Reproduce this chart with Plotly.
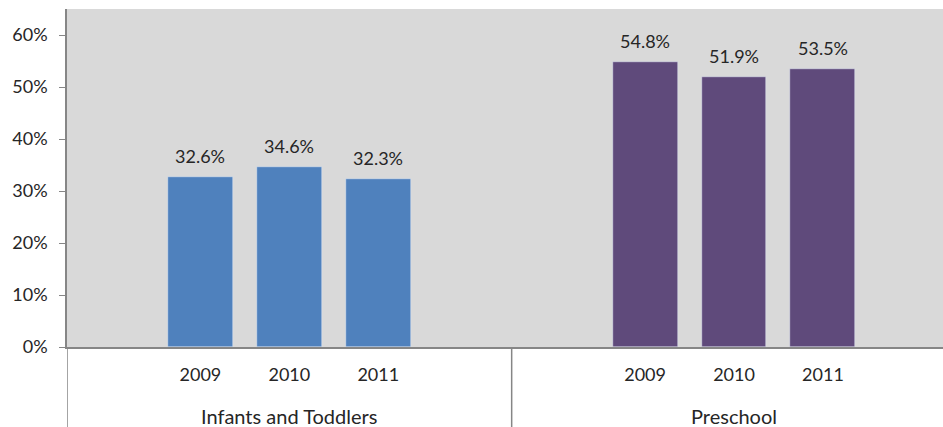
import plotly.graph_objects as go

groups = ["Infants and Toddlers", "Preschool"]
years = ["2009", "2010", "2011"]
infants = [32.6, 34.6, 32.3]
preschool = [54.8, 51.9, 53.5]
y_ticks = [0, 10, 20, 30, 40, 50, 60]

# category slots: each group has 5 slots (blank, 2009, 2010, 2011, blank)
pos_inf = [1, 2, 3]
pos_pre = [6, 7, 8]

font_fam = "Lato, 'Open Sans', sans-serif"
txt_col = "#262626"
axis_col = "#868686"
fs = 18

fig = go.Figure()
for pos, vals, col in [(pos_inf, infants, "#4f81bd"), (pos_pre, preschool, "#5f4a7b")]:
    fig.add_trace(go.Bar(x=pos, y=vals, width=0.73, marker_color=col, showlegend=False))
    for p, v in zip(pos, vals):
        fig.add_annotation(x=p, y=v, xref="x", yref="y", text=f"{v:.1f}%", showarrow=False,
                           yanchor="bottom", yshift=8,
                           font=dict(size=fs, color=txt_col, family=font_fam))

fig.update_layout(
    width=943, height=427,
    margin=dict(l=67, r=0, t=9, b=80, autoexpand=False),
    paper_bgcolor="white", plot_bgcolor="#d9d9d9",
    font=dict(family=font_fam, size=fs, color=txt_col),
    bargap=0,
    xaxis=dict(
        range=[-0.5, 9.35], tickmode="array", tickvals=pos_inf + pos_pre, ticktext=years + years,
        showgrid=False, zeroline=False, showline=True, linecolor=axis_col, linewidth=1.5,
        ticks="", ticklabelstandoff=11, tickfont=dict(size=fs, color=txt_col),
        automargin=False,
    ),
    yaxis=dict(
        range=[0, 65], tickmode="array", tickvals=y_ticks, ticktext=[f"{t}%" for t in y_ticks],
        showgrid=False, zeroline=False, showline=True, linecolor=axis_col, linewidth=1.5,
        ticks="outside", ticklen=6, tickcolor=axis_col, tickwidth=1,
        tickfont=dict(size=fs, color=txt_col), ticklabelstandoff=8, automargin=False,
    ),
)

# group dividers and group labels
for xv in [-0.5, 4.5]:
    fig.add_shape(type="line", xref="x", yref="paper", x0=xv, x1=xv, y0=0, y1=-80/338,
                  line=dict(color=axis_col, width=1.5))
for g, xc in zip(groups, [2, 7]):
    fig.add_annotation(x=xc, xref="x", y=-69/338, yref="paper", text=g, showarrow=False,
                       yanchor="middle", font=dict(size=20, color=txt_col, family=font_fam))

fig.write_html("out.html", config={"displayModeBar": False},
               post_script="document.body.style.margin='0';document.body.style.overflow='hidden';")
